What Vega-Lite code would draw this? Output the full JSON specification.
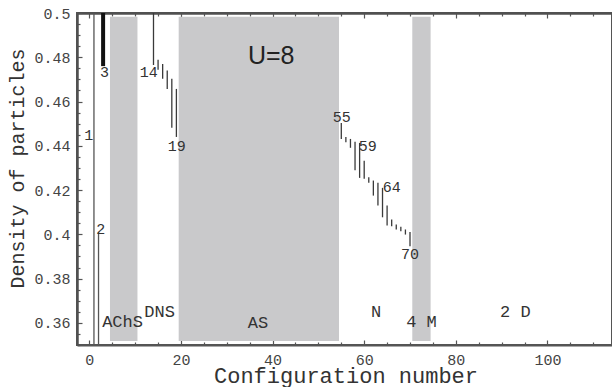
{
  "$schema": "https://vega.github.io/schema/vega-lite/v6.json",
  "width": 535,
  "height": 332,
  "autosize": {"type": "none"},
  "padding": {"left": 77, "top": 13, "right": 0, "bottom": 42},
  "background": "white",
  "config": {
    "view": {"stroke": "#555555", "strokeWidth": 2},
    "axis": {
      "domain": true,
      "domainColor": "#555555",
      "domainWidth": 2.5,
      "tickColor": "#555555",
      "tickWidth": 1.2,
      "labelFont": "Liberation Mono",
      "labelFontSize": 15,
      "labelColor": "#444444",
      "titleFont": "Liberation Mono",
      "titleFontWeight": "normal",
      "titleColor": "#333333",
      "grid": false,
      "zindex": 1
    }
  },
  "datasets": {
    "bands": [
      {"x0": 4.5, "x1": 10.5, "y0": 0.3518, "y1": 0.4983},
      {"x0": 19.5, "x1": 54.5, "y0": 0.3518, "y1": 0.4983},
      {"x0": 70.5, "x1": 74.5, "y0": 0.3518, "y1": 0.4983}
    ],
    "lines": [
      {"n": 1, "lo": 0.35, "hi": 0.5},
      {"n": 2, "lo": 0.35, "hi": 0.401},
      {"n": 3, "lo": 0.476, "hi": 0.5},
      {"n": 14, "lo": 0.4765, "hi": 0.5},
      {"n": 15, "lo": 0.4744, "hi": 0.4789},
      {"n": 16, "lo": 0.4703, "hi": 0.477},
      {"n": 17, "lo": 0.4657, "hi": 0.474},
      {"n": 18, "lo": 0.4481, "hi": 0.4703},
      {"n": 19, "lo": 0.444, "hi": 0.4657},
      {"n": 55, "lo": 0.4431, "hi": 0.4503},
      {"n": 56, "lo": 0.4416, "hi": 0.444},
      {"n": 57, "lo": 0.4391, "hi": 0.4431},
      {"n": 58, "lo": 0.4289, "hi": 0.4418},
      {"n": 59, "lo": 0.4255, "hi": 0.4413},
      {"n": 60, "lo": 0.4251, "hi": 0.4333},
      {"n": 61, "lo": 0.4233, "hi": 0.4258},
      {"n": 62, "lo": 0.4175, "hi": 0.4243},
      {"n": 63, "lo": 0.413, "hi": 0.4233},
      {"n": 64, "lo": 0.4077, "hi": 0.421},
      {"n": 65, "lo": 0.404, "hi": 0.413},
      {"n": 66, "lo": 0.4037, "hi": 0.4067},
      {"n": 67, "lo": 0.4022, "hi": 0.4044},
      {"n": 68, "lo": 0.4014, "hi": 0.4034},
      {"n": 69, "lo": 0.3999, "hi": 0.4022},
      {"n": 70, "lo": 0.3946, "hi": 0.4011}
    ],
    "nums": [
      {"t": "1", "x": -0.13, "y": 0.4451},
      {"t": "2", "x": 2.49, "y": 0.4023},
      {"t": "3", "x": 3.28, "y": 0.4732},
      {"t": "14", "x": 12.97, "y": 0.4732},
      {"t": "19", "x": 19.08, "y": 0.4401},
      {"t": "55", "x": 55.1, "y": 0.453},
      {"t": "59", "x": 60.8, "y": 0.4398},
      {"t": "64", "x": 66.0, "y": 0.4214},
      {"t": "70", "x": 70.0, "y": 0.3913}
    ],
    "regions": [
      {"t": "AChS", "x": 7.25, "y": 0.3602},
      {"t": "DNS", "x": 15.33, "y": 0.3649},
      {"t": "AS", "x": 36.8, "y": 0.36},
      {"t": "N", "x": 62.6, "y": 0.3651},
      {"t": "4 M", "x": 72.5, "y": 0.3602},
      {"t": "2 D", "x": 93.0, "y": 0.3651}
    ],
    "title": [
      {"t": "U=8", "x": 39.7, "y": 0.4804}
    ]
  },
  "resolve": {"axis": {"x": "independent", "y": "independent"}},
  "layer": [
    {
      "data": {"name": "bands"},
      "mark": {"type": "rect", "color": "#c9c9cb"},
      "encoding": {
        "x": {
          "field": "x0", "type": "quantitative",
          "scale": {"domain": [-2.7, 114.1], "nice": false, "zero": false},
          "axis": {
            "orient": "bottom",
            "values": [0, 5, 10, 15, 20, 25, 30, 35, 40, 45, 50, 55, 60, 65, 70, 75, 80, 85, 90, 95, 100, 105, 110],
            "labelExpr": "datum.value % 20 === 0 ? datum.label : ''",
            "tickSize": {"condition": {"test": "datum.value % 20 === 0", "value": -5}, "value": -3},
            "domainColor": "#555555",
            "domainWidth": 2,
            "labelPadding": 12,
            "labelBaseline": "top",
            "title": "Configuration number",
            "titleFontSize": 22,
            "titleX": 268.5,
            "titleY": 37,
            "titleAlign": "center",
            "titleBaseline": "alphabetic"
          }
        },
        "x2": {"field": "x1"},
        "y": {
          "field": "y0", "type": "quantitative",
          "scale": {"domain": [0.35, 0.5], "nice": false, "zero": false},
          "axis": {
            "orient": "left",
            "values": [0.35, 0.355, 0.36, 0.365, 0.37, 0.375, 0.38, 0.385, 0.39, 0.395, 0.4, 0.405, 0.41, 0.415, 0.42, 0.425, 0.43, 0.435, 0.44, 0.445, 0.45, 0.455, 0.46, 0.465, 0.47, 0.475, 0.48, 0.485, 0.49, 0.495, 0.5],
            "labelExpr": "round(datum.value*1000) % 20 === 0 ? format(datum.value, '.2~f') : ''",
            "tickSize": {"condition": {"test": "round(datum.value*1000) % 20 === 0", "value": -5}, "value": -3},
            "domainColor": "#505050",
            "domainWidth": 2.5,
            "tickColor": "#555555",
            "labelPadding": 12,
            "title": "Density of particles",
            "titleFontSize": 20,
            "titleAngle": 270,
            "titleX": -54,
            "titleY": 155,
            "titleAlign": "center",
            "titleBaseline": "alphabetic"
          }
        },
        "y2": {"field": "y1"}
      }
    },
    {
      "data": {"name": "lines"},
      "mark": {"type": "rule", "clip": true},
      "encoding": {
        "x": {
          "field": "n", "type": "quantitative",
          "scale": {"domain": [-2.7, 114.1], "nice": false, "zero": false},
          "axis": {
            "orient": "top",
            "values": [0, 5, 10, 15, 20, 25, 30, 35, 40, 45, 50, 55, 60, 65, 70, 75, 80, 85, 90, 95, 100, 105, 110],
            "labels": false,
            "tickSize": {"condition": {"test": "datum.value % 20 === 0", "value": -5}, "value": -3},
            "domainColor": "#505050",
            "domainWidth": 2.5,
            "tickColor": "#555555",
            "title": null
          }
        },
        "y": {
          "field": "lo", "type": "quantitative",
          "scale": {"domain": [0.35, 0.5], "nice": false, "zero": false},
          "axis": {
            "orient": "right",
            "values": [0.36, 0.38, 0.4, 0.42, 0.44, 0.46, 0.48],
            "labels": false,
            "domain": false,
            "tickSize": -1.5,
            "title": null
          }
        },
        "y2": {"field": "hi"},
        "strokeWidth": {"condition": {"test": "datum.n === 3", "value": 4}, "value": 1.3},
        "color": {
          "condition": [
            {"test": "datum.n === 3", "value": "#111111"},
            {"test": "datum.n <= 2", "value": "#555555"}
          ],
          "value": "#3a3a3a"
        }
      }
    },
    {
      "data": {"name": "nums"},
      "mark": {"type": "text", "font": "Liberation Mono", "fontSize": 15, "color": "#333333", "align": "center", "baseline": "middle"},
      "encoding": {
        "x": {"field": "x", "type": "quantitative", "scale": {"domain": [-2.7, 114.1], "nice": false, "zero": false}, "axis": null},
        "y": {"field": "y", "type": "quantitative", "scale": {"domain": [0.35, 0.5], "nice": false, "zero": false}, "axis": null},
        "text": {"field": "t"}
      }
    },
    {
      "data": {"name": "regions"},
      "mark": {"type": "text", "font": "Liberation Mono", "fontSize": 17, "color": "#333333", "align": "center", "baseline": "middle"},
      "encoding": {
        "x": {"field": "x", "type": "quantitative", "scale": {"domain": [-2.7, 114.1], "nice": false, "zero": false}, "axis": null},
        "y": {"field": "y", "type": "quantitative", "scale": {"domain": [0.35, 0.5], "nice": false, "zero": false}, "axis": null},
        "text": {"field": "t"}
      }
    },
    {
      "data": {"name": "title"},
      "mark": {"type": "text", "font": "Liberation Sans", "fontSize": 25, "color": "#222222", "align": "center", "baseline": "middle"},
      "encoding": {
        "x": {"field": "x", "type": "quantitative", "scale": {"domain": [-2.7, 114.1], "nice": false, "zero": false}, "axis": null},
        "y": {"field": "y", "type": "quantitative", "scale": {"domain": [0.35, 0.5], "nice": false, "zero": false}, "axis": null},
        "text": {"field": "t"}
      }
    }
  ]
}
